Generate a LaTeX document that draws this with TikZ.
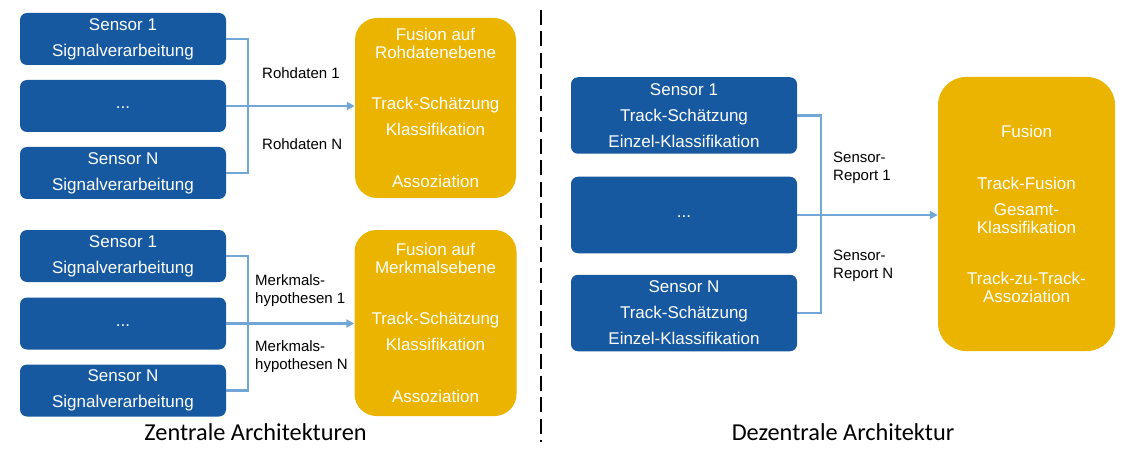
\documentclass[tikz,border=0pt]{standalone}
\usepackage{fontspec}
\setmainfont{Liberation Sans}
\newfontfamily\capfont{Carlito}
\usetikzlibrary{arrows.meta}
\definecolor{boxblue}{RGB}{22,89,160}
\definecolor{fusyellow}{RGB}{234,180,0}
\definecolor{connblue}{RGB}{114,166,214}
\tikzset{
  bluebox/.style={rectangle, rounded corners=7pt, fill=boxblue, text=white, inner sep=0pt,
    align=center, minimum width=206pt, minimum height=52pt, font=\fontsize{17}{26}\selectfont},
  rbluebox/.style={bluebox, minimum width=226pt, minimum height=76.5pt},
  dotsbox/.style={text height=6pt, text depth=0pt},
  fusbox/.style={rectangle, rounded corners=22pt, fill=fusyellow, text=white, inner sep=0pt,
    align=center, font=\fontsize{17}{18}\selectfont},
  conn/.style={draw=connblue, line width=2.2pt},
  arr/.style={conn, -{Triangle[length=8pt,width=8pt]}},
  lbl/.style={anchor=west, align=left, inner sep=0pt, text=black, font=\fontsize{15}{18}\selectfont},
  captxt/.style={inner sep=0pt, text=black, font=\capfont\fontsize{24.3}{28}\selectfont}
}
\begin{document}
\begin{tikzpicture}[x=1pt,y=-1pt]
\useasboundingbox (0,0) rectangle (1124,449);
% ---------- top left: Rohdatenebene
\node[bluebox] (a1) at (123,39) {Sensor 1\\Signalverarbeitung};
\node[bluebox, dotsbox] (a2) at (123,106) {...};
\node[bluebox] (a3) at (123,173) {Sensor N\\Signalverarbeitung};
\node[fusbox, minimum width=161pt, minimum height=180pt] (fa) at (435.5,108)
  {Fusion auf\\Rohdatenebene\\[33pt]Track-Schätzung\\[8pt]Klassifikation\\[34pt]Assoziation};
\draw[conn] (a1.east) -- ++(22,0) coordinate (ka) -- (ka |- a3.east) -- (a3.east);
\draw[arr] (a2.east) -- (a2.east -| fa.west);
\node[lbl] (la1) at (262,73) {Rohdaten 1};
\node[lbl] (la2) at (262,144) {Rohdaten N};
% ---------- bottom left: Merkmalsebene
\node[bluebox] (b1) at (123,256) {Sensor 1\\Signalverarbeitung};
\node[bluebox, dotsbox] (b2) at (123,323.5) {...};
\node[bluebox] (b3) at (123,390.5) {Sensor N\\Signalverarbeitung};
\node[fusbox, minimum width=162pt, minimum height=186pt] (fb) at (435.5,323)
  {Fusion auf\\Merkmalsebene\\[33pt]Track-Schätzung\\[8pt]Klassifikation\\[34pt]Assoziation};
\draw[conn] (b1.east) -- ++(22,0) coordinate (kb) -- (kb |- b3.east) -- (b3.east);
\draw[arr] (b2.east) -- (b2.east -| fb.west);
\node[lbl] (lb1) at (255,291) {Merkmals-\\hypothesen 1};
\node[lbl] (lb2) at (255,357) {Merkmals-\\hypothesen N};
\node[captxt] (capl) at (255.5,432) {Zentrale Architekturen};
% ---------- separator
\draw[line width=2pt, dash pattern=on 15pt off 6.5pt] (541,10) -- (541,442);
% ---------- right: dezentral
\node[rbluebox] (c1) at (684,115.5) {Sensor 1\\Track-Schätzung\\Einzel-Klassifikation};
\node[rbluebox, dotsbox] (c2) at (684,215) {...};
\node[rbluebox] (c3) at (684,313) {Sensor N\\Track-Schätzung\\Einzel-Klassifikation};
\node[fusbox, rounded corners=28pt, minimum width=177pt, minimum height=274pt] (fc) at (1026.5,214)
  {Fusion\\[34pt]Track-Fusion\\[8pt]Gesamt-\\Klassifikation\\[33pt]Track-zu-Track-\\Assoziation};
\draw[conn] (c1.east) -- ++(24,0) coordinate (kc) -- (kc |- c3.east) -- (c3.east);
\draw[arr] (c2.east) -- (c2.east -| fc.west);
\node[lbl] (lc1) at (833,167.5) {Sensor-\\Report 1};
\node[lbl] (lc2) at (833,266) {Sensor-\\Report N};
\node[captxt] (capr) at (843,432) {Dezentrale Architektur};
\end{tikzpicture}
\end{document}
